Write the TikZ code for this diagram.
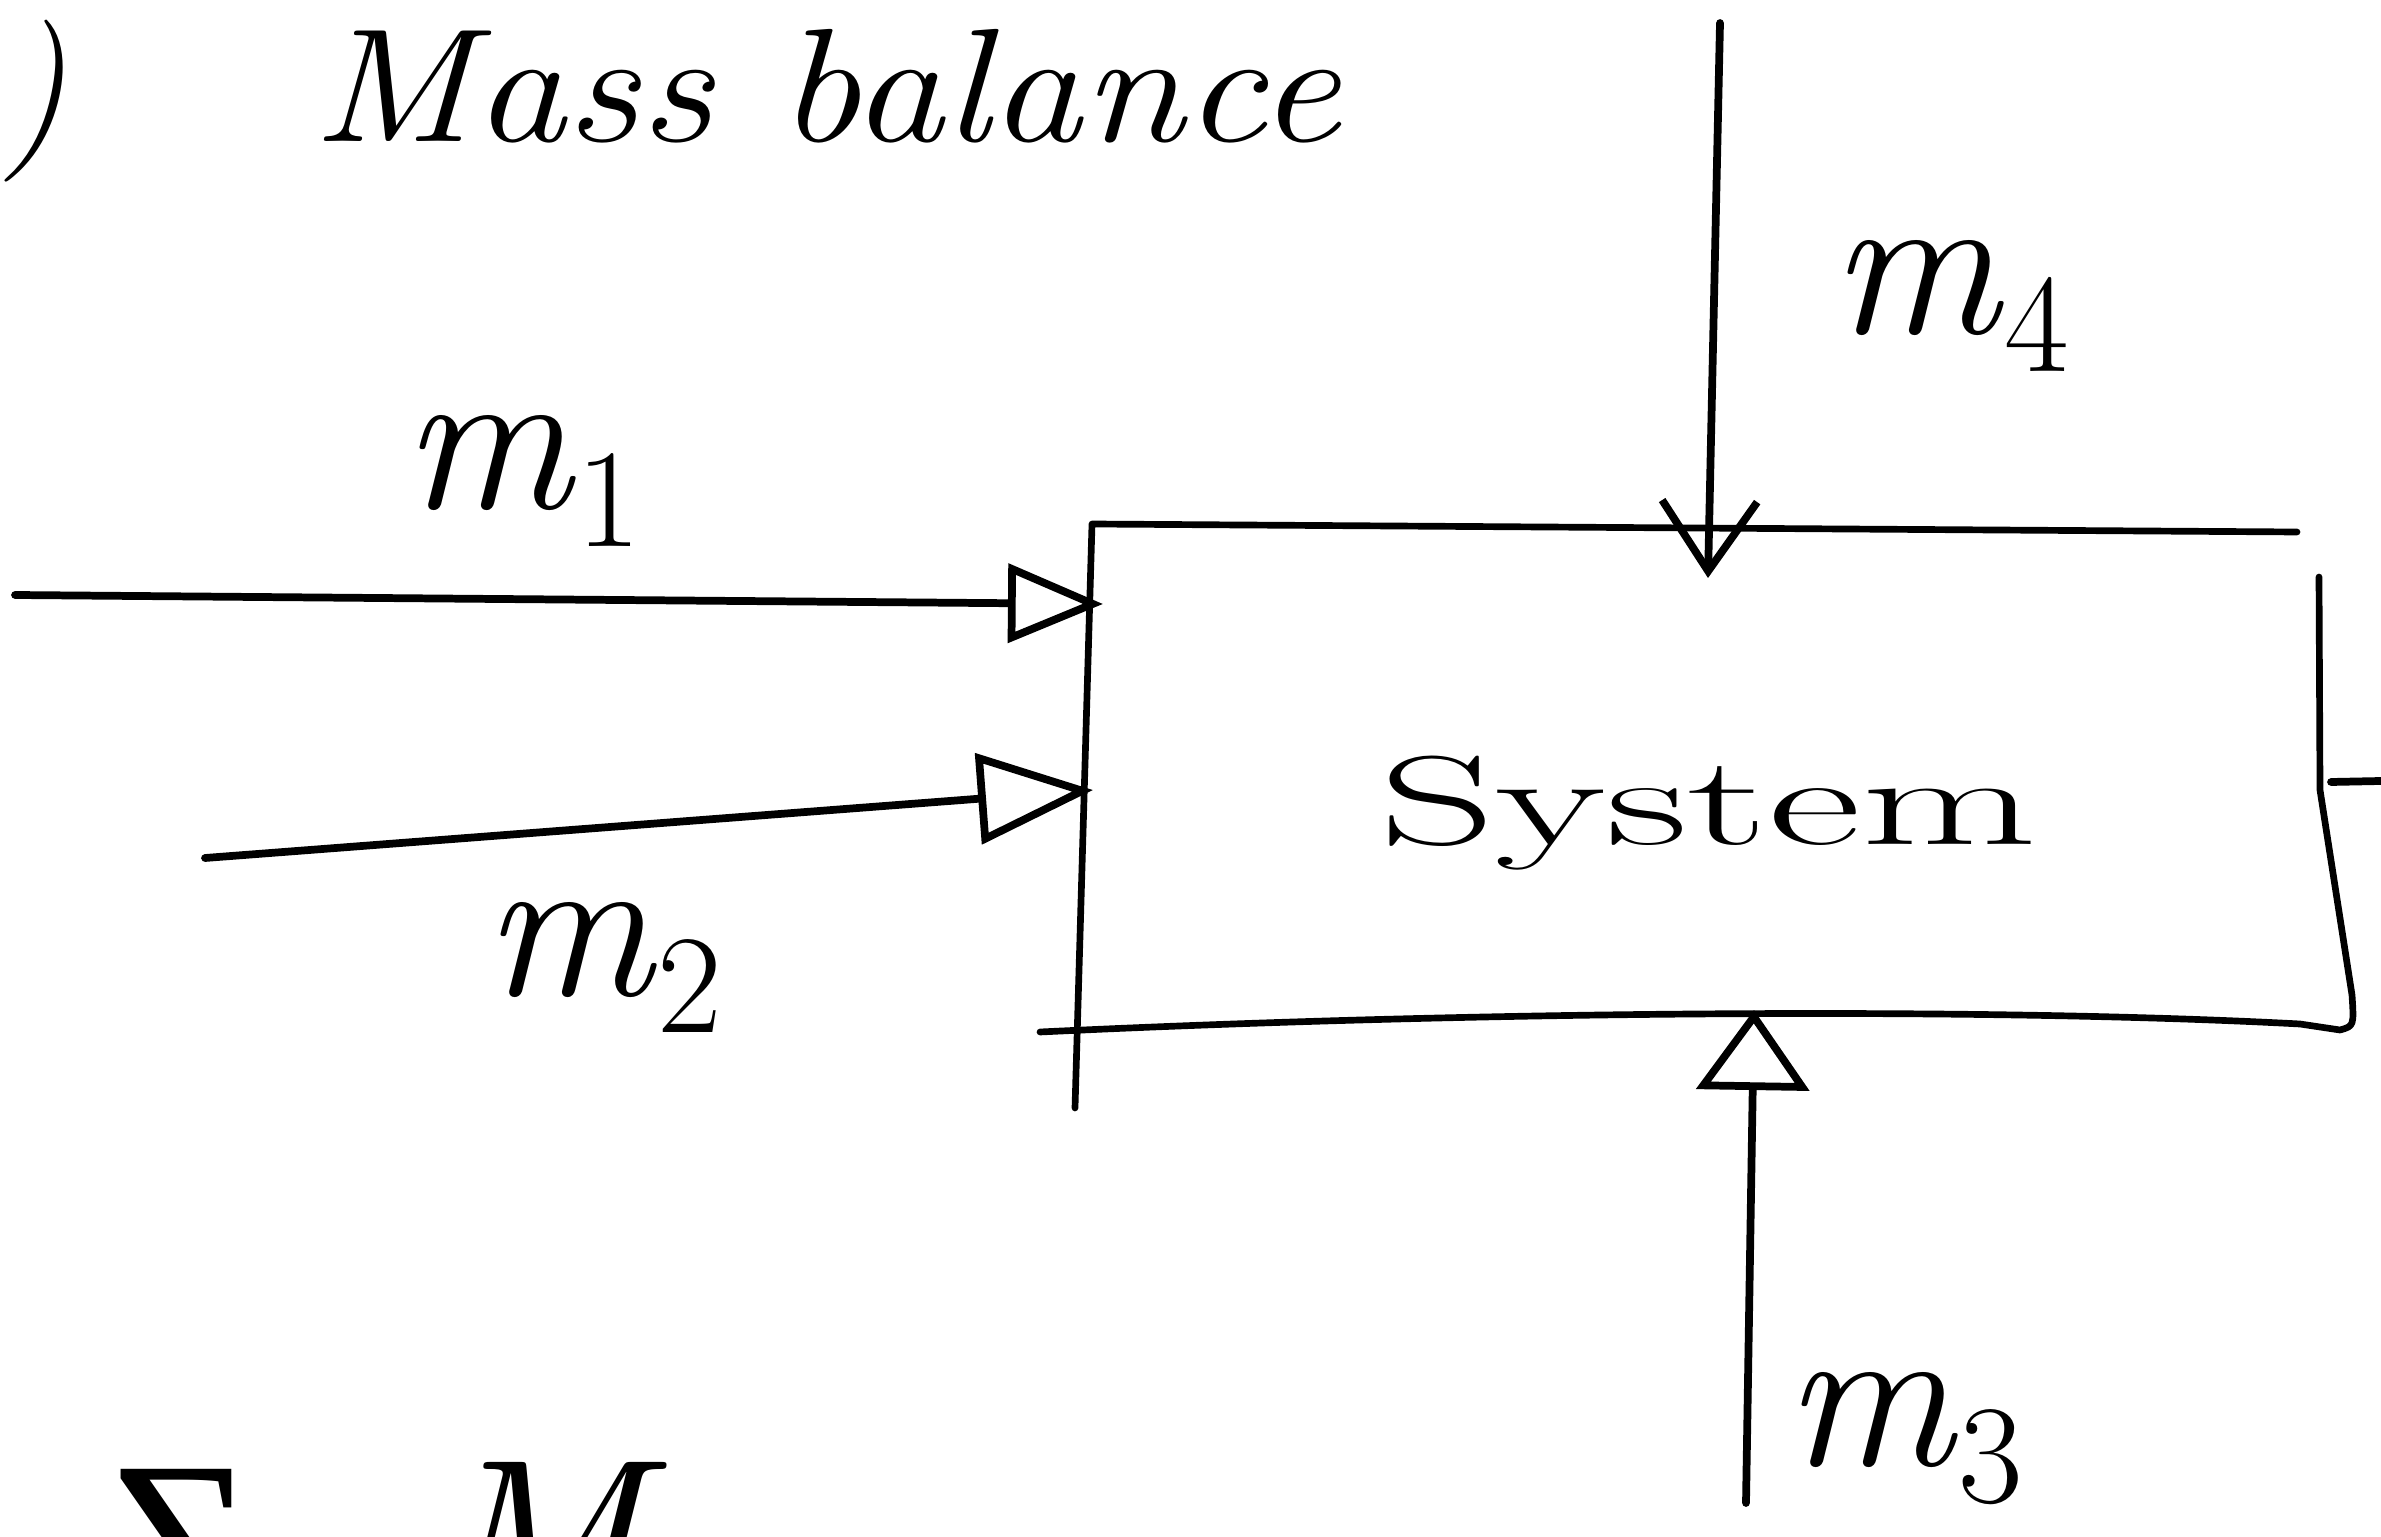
\documentclass[tikz,border=0pt]{standalone}
\usepackage{fontspec}
\newfontfamily\greekserif{Liberation Serif}
\usetikzlibrary{arrows.meta}
% stream label: italic m with a lowered index
\newcommand{\streamlbl}[1]{\textit{m}\raisebox{-0.18em}{\fontsize{40}{44}\selectfont #1}}
\begin{document}
\begin{tikzpicture}[x=0.01cm,y=-0.01cm,
  ink/.style={line width=2.2pt, line cap=round, line join=round},
  wall/.style={line width=1.9pt, line cap=round, line join=round},
  openhead/.style 2 args={ink, -{Triangle[open, length=#1, width=#2]}},
  barbhead/.style={ink, -{Straight Barb[length=0.7cm, width=0.95cm]}},
  hand/.style={inner sep=0pt, anchor=base west, font=\fontsize{46}{52}\selectfont},
  flow/.style={inner sep=0pt, anchor=base west, font=\fontsize{60}{66}\selectfont}]
\clip (0,0) rectangle (2381,1537);
\fill[white] (0,0) rectangle (2381,1537);

% heading
\node[hand] (head) at (311,142) {\scalebox{1.14}[1]{\itshape Mass balance}};
\node[hand, anchor=base east] (item) at (68,142) {\itshape )};

% control volume outline, hand-drawn with overshooting corners
\coordinate (tl) at (1092,524);
\coordinate (topend) at (2297,532);
\coordinate (leftend) at (1075,1108);
\coordinate (bl) at (1040,1032);
\coordinate (br) at (2340,1030);
\coordinate (rtop) at (2319,577);
\draw[wall] (topend) -- (tl) -- (leftend);
\draw[wall] (bl) .. controls (1500,1010) and (2000,1008) .. (2300,1024)
  -- (br) .. controls (2354,1026) .. (2352,995) -- (2320,790) -- (rtop);

\node[inner sep=0pt, anchor=base, font=\fontsize{36}{42}\selectfont] (sys) at (1708,845)
  {\scalebox{1.8}[1]{System}};

% streams
\coordinate (in1) at (15,595);
\coordinate (in1tip) at (1103,604);
\draw[openhead={0.95cm}{0.78cm}] (in1) -- (in1tip);

\coordinate (in2) at (205,858);
\coordinate (in2tip) at (1093,790);
\draw[openhead={1.15cm}{0.9cm}] (in2) -- (in2tip);

\coordinate (in4) at (1720,23);
\coordinate (in4tip) at (1708,578);
\draw[barbhead] (in4) -- (in4tip);

\coordinate (in3) at (1746,1503);
\coordinate (in3tip) at (1754,1010);
\draw[openhead={0.8cm}{1.12cm}] (in3) -- (in3tip);

\coordinate (outst) at (2331,782);
\coordinate (outend) at (2381,781);
\draw[ink] (outst) -- (outend);

% stream labels
\node[flow] (m1) at (402,509) {\streamlbl{1}};
\node[flow] (m2) at (483,995) {\streamlbl{2}};
\node[flow] (m4) at (1830,334) {\streamlbl{4}};
\node[flow] (m3) at (1784,1465) {\streamlbl{3}};

% summation, cut off at the lower edge
\node[inner sep=0pt, anchor=base west, font=\fontsize{70}{80}\selectfont] (sum) at (110,1630)
  {{\greekserif Σ}\hspace{0.7em}\textit{M}};
\end{tikzpicture}
\end{document}
